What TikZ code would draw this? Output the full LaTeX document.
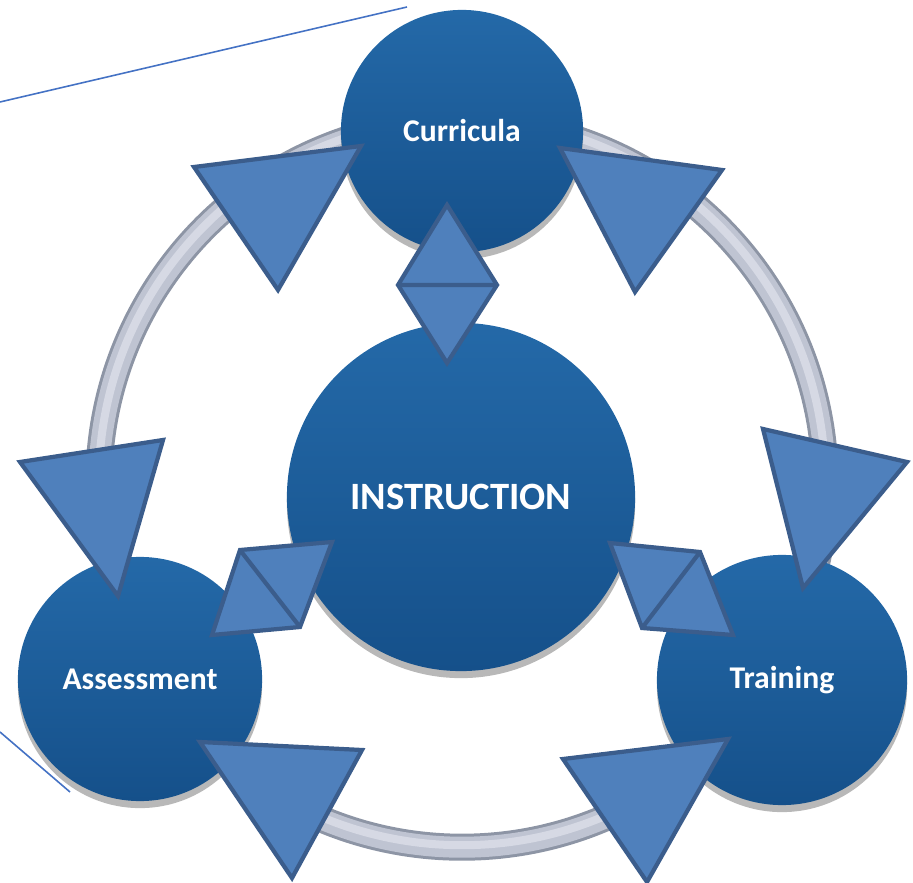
\documentclass[tikz,border=0pt]{standalone}
\usepackage{fontspec}
\setmainfont{Carlito}
\usetikzlibrary{shadows}
\definecolor{disctop}{HTML}{2469A8}
\definecolor{discbot}{HTML}{15508A}
\definecolor{tripfill}{HTML}{4F80BC}
\definecolor{tripline}{HTML}{3B5D8C}
\definecolor{ringgray}{HTML}{BFC4D2}
\definecolor{ringlight}{HTML}{D6D9E4}
\definecolor{ringedge}{HTML}{8D95A5}
\definecolor{thinblue}{HTML}{4472C4}

\begin{document}
\begin{tikzpicture}[x=0.01cm, y=-0.01cm,
    disc/.style={circle, inner sep=0pt, top color=disctop, bottom color=discbot,
        drop shadow={shadow xshift=0pt, shadow yshift=-2pt, fill=gray!70, opacity=.8},
        text=white, font=\bfseries\fontsize{9}{11}\selectfont},
    tri/.style={fill=tripfill, draw=tripline, line width=1.2pt, line join=miter},
    ringline/.style={circle, inner sep=0pt, minimum size=7.26cm, draw=#1}]
                        \useasboundingbox (0,0) rectangle (913,883);
                        % ring behind the discs
                        \node[ringline=ringedge, line width=0.27cm] (ring) at (462,484) {};
                        \node[ringline=ringgray, line width=0.21cm] (ringmid) at (462,484) {};
                        \node[ringline=ringlight, line width=0.08cm] (ringin) at (462,482) {};
                        \node[disc, minimum size=2.42cm] (cur) at (462,131) {Curricula};
                        \node[disc, minimum size=3.48cm, font=\bfseries\fontsize{11}{13}\selectfont] (ins) at (461,497) {INSTRUCTION};
                        \node[disc, minimum size=2.44cm] (ass) at (140,679) {Assessment};
                        \node[disc, minimum size=2.5cm] (tra) at (782,680) {Training};
                        % arrow heads on the ring
                        \draw[tri] (194,167) -- (361,146) -- (278,290) -- cycle;
                        \draw[tri] (560,148) -- (722,170) -- (635,292) -- cycle;
                        \draw[tri] (763,429) -- (907,462) -- (803,588) -- cycle;
                        \draw[tri] (563,759) -- (728,739) -- (647,882) -- cycle;
                        \draw[tri] (200,742) -- (362,750) -- (292,878) -- cycle;
                        \draw[tri] (20,462) -- (163,440) -- (118,596) -- cycle;
                        % double heads between the discs
                        \draw[tri] (447,205) -- (497,285) -- (447,363) -- (398,285) -- cycle
                        (398,285) -- (497,285);
                        \draw[tri] (240,550) -- (332,542) -- (300,627) -- (212,635) -- cycle
                        (240,550) -- (300,627);
                        \draw[tri] (610,543) -- (700,552) -- (733,635) -- (642,628) -- cycle
                        (700,552) -- (642,628);
                        \coordinate (l1a) at (0,102);
                        \coordinate (l1b) at (407,7);
                        \coordinate (l2a) at (0,732);
                        \coordinate (l2b) at (70,792);
                        \draw[thinblue, line width=0.45pt] (l1a) -- (l1b) (l2a) -- (l2b);
                    \end{tikzpicture}
\end{document}
